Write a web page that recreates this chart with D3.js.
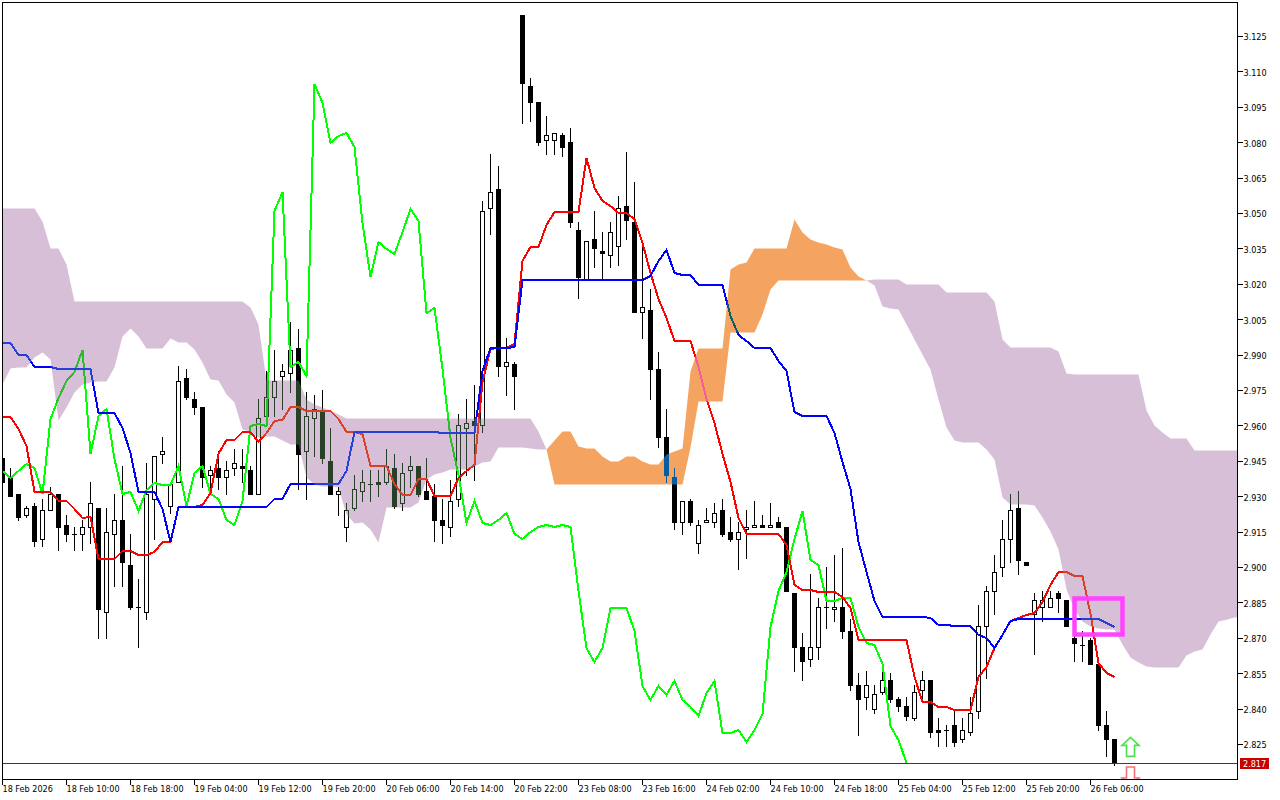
<!DOCTYPE html>
<meta charset="utf-8">
<style>
  html, body { margin: 0; padding: 0; background: #fff; }
  svg { display: block; }
  text { font-family: "DejaVu Sans Condensed", "DejaVu Sans", sans-serif; font-size: 9px; fill: #000; }
  .axis path { display: none; }
  .axis line { stroke: #000; shape-rendering: crispEdges; }
</style>
<svg width="1280" height="800"></svg>
<script src="https://d3js.org/d3.v7.min.js"></script>
<script>
  // price bars
  var opens = [
    2.946,2.938,2.931,2.922,2.926,2.912,2.924,2.931,2.918,2.914,
    2.914,2.917,2.925,2.881,2.914,2.920,2.901,2.883,2.881,2.929,
    2.948,2.926,2.936,2.980,2.971,2.968,2.939,2.942,2.938,2.942,
    2.943,2.941,2.931,2.964,2.972,2.981,2.982,2.993,2.949,2.963,
    2.966,2.945,2.931,2.917,2.925,2.932,2.935,2.936,2.936,2.942,
    2.927,2.941,2.943,2.932,2.930,2.920,2.917,2.929,2.959,2.962,
    2.960,3.052,3.060,2.985,2.986,3.134,3.104,3.097,3.081,3.081,
    3.083,3.080,3.043,3.022,3.039,3.034,3.032,3.036,3.053,3.046,
    3.008,3.009,2.984,2.955,2.938,2.919,2.928,2.910,2.919,2.919,
    2.924,2.915,2.912,2.916,2.917,2.918,2.917,2.919,2.917,2.889,
    2.866,2.861,2.866,2.883,2.882,2.883,2.873,2.850,2.845,2.840,
    2.847,2.852,2.844,2.841,2.836,2.848,2.852,2.831,2.831,2.833,
    2.827,2.830,2.839,2.875,2.890,2.900,2.912,2.925,2.902,2.880,
    2.883,2.883,2.889,2.886,2.870,2.867,2.869,2.859,2.833,2.827
  ];
  var highs = [
    2.946,2.942,2.931,2.926,2.927,2.929,2.934,2.931,2.922,2.917,
    2.920,2.936,2.925,2.925,2.931,2.943,2.914,2.895,2.944,2.947,
    2.955,2.935,2.985,2.984,2.974,2.968,2.943,2.949,2.945,2.950,
    2.950,2.943,2.971,2.983,2.992,2.986,3.004,3.001,2.974,2.973,
    2.975,2.959,2.934,2.927,2.939,2.941,2.941,2.941,2.950,2.948,
    2.944,2.947,2.943,2.946,2.935,2.929,2.937,2.965,2.971,2.977,
    3.055,3.075,3.070,2.997,2.987,3.134,3.107,3.097,3.091,3.084,
    3.084,3.086,3.046,3.038,3.051,3.042,3.046,3.057,3.076,3.063,
    3.038,3.018,2.991,2.967,2.942,2.928,2.929,2.920,2.925,2.927,
    2.929,2.921,2.919,2.924,2.928,2.922,2.927,2.921,2.917,2.889,
    2.872,2.897,2.887,2.900,2.905,2.908,2.878,2.855,2.856,2.850,
    2.860,2.855,2.845,2.845,2.850,2.856,2.852,2.836,2.833,2.840,
    2.836,2.845,2.884,2.892,2.905,2.920,2.931,2.932,2.902,2.889,
    2.890,2.890,2.890,2.886,2.872,2.873,2.870,2.859,2.839,2.827
  ];
  var lows = [
    2.936,2.930,2.920,2.921,2.909,2.909,2.924,2.907,2.911,2.907,
    2.907,2.910,2.870,2.870,2.892,2.892,2.882,2.866,2.878,2.912,
    2.944,2.923,2.936,2.971,2.965,2.934,2.934,2.933,2.931,2.939,
    2.936,2.931,2.931,2.961,2.964,2.967,2.974,2.933,2.929,2.947,
    2.944,2.931,2.922,2.911,2.924,2.928,2.928,2.930,2.935,2.925,
    2.924,2.934,2.930,2.929,2.911,2.910,2.913,2.926,2.939,2.937,
    2.957,3.041,2.981,2.973,2.967,3.088,3.089,3.079,3.075,3.075,
    3.074,3.044,3.014,3.022,3.027,3.022,3.027,3.028,3.039,3.008,
    2.997,2.971,2.951,2.936,2.916,2.914,2.918,2.906,2.919,2.917,
    2.913,2.911,2.899,2.904,2.917,2.917,2.917,2.917,2.890,2.856,
    2.852,2.858,2.861,2.874,2.877,2.870,2.848,2.829,2.840,2.838,
    2.846,2.843,2.839,2.835,2.835,2.844,2.828,2.824,2.824,2.824,
    2.826,2.829,2.836,2.853,2.880,2.896,2.902,2.897,2.901,2.863,
    2.877,2.883,2.881,2.875,2.860,2.860,2.859,2.831,2.820,2.816
  ];
  var closes = [
    2.936,2.930,2.921,2.925,2.911,2.924,2.931,2.917,2.914,2.914,
    2.917,2.927,2.882,2.915,2.920,2.902,2.883,2.883,2.931,2.947,
    2.949,2.935,2.979,2.972,2.968,2.938,2.941,2.938,2.941,2.944,
    2.942,2.931,2.963,2.972,2.979,2.983,2.992,2.948,2.964,2.967,
    2.946,2.931,2.932,2.924,2.933,2.936,2.935,2.935,2.943,2.926,
    2.940,2.943,2.931,2.929,2.920,2.918,2.928,2.960,2.961,2.960,
    3.051,3.059,2.985,2.987,2.981,3.105,3.097,3.080,3.083,3.084,
    3.078,3.046,3.023,3.038,3.035,3.033,3.042,3.052,3.047,3.008,
    3.010,2.984,2.955,2.939,2.919,2.928,2.919,2.918,2.920,2.923,
    2.914,2.912,2.915,2.917,2.918,2.917,2.918,2.917,2.890,2.866,
    2.860,2.866,2.883,2.883,2.883,2.873,2.850,2.844,2.850,2.846,
    2.852,2.844,2.841,2.837,2.847,2.852,2.830,2.830,2.831,2.826,
    2.831,2.838,2.875,2.890,2.898,2.912,2.924,2.903,2.901,2.886,
    2.886,2.887,2.887,2.875,2.868,2.867,2.859,2.833,2.827,2.817
  ];

  // ichimoku lines
  var tenkan = [
    2.9636,2.9636,2.9585,2.9513,2.9322,2.9322,2.9322,2.9280,2.9280,2.9246,
    2.9208,2.9216,2.9034,2.9034,2.9034,2.9068,2.9068,2.9051,2.9051,2.9064,
    2.9110,2.9110,2.9258,2.9258,2.9258,2.9263,2.9314,2.9483,2.9542,2.9542,
    2.9576,2.9576,2.9530,2.9572,2.9619,2.9623,2.9678,2.9678,2.9665,2.9665,
    2.9665,2.9665,2.9631,2.9576,2.9576,2.9564,2.9432,2.9432,2.9432,2.9352,
    2.9309,2.9309,2.9373,2.9373,2.9305,2.9305,2.9305,2.9381,2.9407,2.9436,
    2.9784,2.9924,2.9928,2.9928,2.9945,3.0297,3.0356,3.0360,3.0453,3.0508,
    3.0508,3.0508,3.0508,3.0737,3.0610,3.0555,3.0530,3.0504,3.0504,3.0475,
    3.0377,3.0250,3.0136,3.0059,2.9958,2.9958,2.9958,2.9848,2.9712,2.9614,
    2.9479,2.9364,2.9208,2.9144,2.9144,2.9144,2.9144,2.9144,2.9097,2.8924,
    2.8903,2.8903,2.8898,2.8898,2.8898,2.8873,2.8830,2.8691,2.8691,2.8691,
    2.8691,2.8691,2.8691,2.8691,2.8538,2.8432,2.8432,2.8407,2.8407,2.8398,
    2.8398,2.8398,2.8538,2.8580,2.8661,2.8716,2.8775,2.8784,2.8797,2.8809,
    2.8852,2.8924,2.8979,2.8979,2.8962,2.8962,2.8801,2.8597,2.8555,2.8534
  ];
  var kijun = [
    2.9953,2.9953,2.9902,2.9902,2.9848,2.9848,2.9848,2.9839,2.9839,2.9839,
    2.9839,2.9839,2.9653,2.9653,2.9653,2.9593,2.9487,2.9318,2.9318,2.9318,
    2.9246,2.9110,2.9258,2.9258,2.9258,2.9258,2.9258,2.9258,2.9258,2.9258,
    2.9258,2.9258,2.9258,2.9258,2.9292,2.9292,2.9352,2.9352,2.9352,2.9352,
    2.9352,2.9352,2.9352,2.9407,2.9576,2.9576,2.9576,2.9576,2.9576,2.9576,
    2.9576,2.9576,2.9576,2.9576,2.9576,2.9572,2.9572,2.9572,2.9572,2.9572,
    2.9831,2.9928,2.9928,2.9928,2.9936,3.0220,3.0220,3.0220,3.0220,3.0220,
    3.0220,3.0220,3.0220,3.0220,3.0220,3.0220,3.0220,3.0220,3.0220,3.0220,
    3.0220,3.0237,3.0297,3.0347,3.0250,3.0241,3.0241,3.0199,3.0199,3.0199,
    3.0199,3.0064,2.9987,2.9958,2.9928,2.9928,2.9928,2.9873,2.9831,2.9661,
    2.9644,2.9644,2.9644,2.9644,2.9572,2.9445,2.9331,2.9106,2.8979,2.8856,
    2.8792,2.8792,2.8792,2.8792,2.8792,2.8792,2.8784,2.8758,2.8758,2.8754,
    2.8754,2.8754,2.8716,2.8703,2.8661,2.8716,2.8775,2.8780,2.8780,2.8780,
    2.8780,2.8780,2.8780,2.8780,2.8780,2.8780,2.8780,2.8780,2.8763,2.8746
  ];
  var chikou = [
    2.941,2.938,2.941,2.944,2.942,2.931,2.963,2.972,2.979,2.983,
    2.992,2.948,2.964,2.967,2.946,2.931,2.932,2.924,2.933,2.936,
    2.935,2.935,2.943,2.926,2.940,2.943,2.931,2.929,2.920,2.918,
    2.928,2.960,2.961,2.960,3.051,3.059,2.985,2.987,2.981,3.105,
    3.097,3.080,3.083,3.084,3.078,3.046,3.023,3.038,3.035,3.033,
    3.042,3.052,3.047,3.008,3.010,2.984,2.955,2.939,2.919,2.928,
    2.919,2.918,2.920,2.923,2.914,2.912,2.915,2.917,2.918,2.917,
    2.918,2.917,2.890,2.866,2.860,2.866,2.883,2.883,2.883,2.873,
    2.850,2.844,2.850,2.846,2.852,2.844,2.841,2.837,2.847,2.852,
    2.830,2.830,2.831,2.826,2.831,2.838,2.875,2.890,2.898,2.912,
    2.924,2.903,2.901,2.886,2.886,2.887,2.887,2.875,2.868,2.867,
    2.859,2.833,2.827,2.817
  ];

  // cloud edges, run 26 bars past the last price bar
  var spanA = [
    2.9775,2.9843,2.9847,2.9847,2.9890,2.9911,2.9881,2.9623,2.9678,2.9742,
    2.9775,2.9784,2.9788,2.9788,2.9847,2.9979,3.0013,2.9979,2.9928,2.9928,
    2.9928,2.9970,2.9953,2.9953,2.9924,2.9869,2.9797,2.9792,2.9733,2.9699,
    2.9585,2.9576,2.9551,2.9555,2.9555,2.9538,2.9521,2.9521,2.9381,2.9352,
    2.9343,2.9343,2.9339,2.9225,2.9186,2.9191,2.9161,2.9106,2.9254,2.9254,
    2.9254,2.9254,2.9275,2.9373,2.9394,2.9403,2.9415,2.9415,2.9415,2.9428,
    2.9445,2.9449,2.9509,2.9509,2.9509,2.9509,2.9504,2.9500,2.9500,2.9538,
    2.9576,2.9576,2.9513,2.9504,2.9504,2.9470,2.9449,2.9449,2.9470,2.9470,
    2.9449,2.9436,2.9436,2.9479,2.9492,2.9504,2.9831,2.9928,2.9928,2.9928,
    2.9928,3.0263,3.0284,3.0292,3.0352,3.0352,3.0352,3.0352,3.0352,3.0475,
    3.0419,3.0390,3.0377,3.0369,3.0356,3.0347,3.0271,3.0233,3.0216,3.0195,
    3.0106,3.0097,3.0093,3.0030,2.9966,2.9902,2.9839,2.9712,2.9593,2.9538,
    2.9530,2.9530,2.9530,2.9500,2.9458,2.9297,2.9267,2.9267,2.9267,2.9263,
    2.9212,2.9153,2.9076,2.8907,2.8822,2.8771,2.8750,2.8741,2.8737,2.8737,
    2.8674,2.8619,2.8597,2.8580,2.8576,2.8576,2.8576,2.8576,2.8627,2.8644,
    2.8653,2.8716,2.8771,2.8779,2.8788,2.8788
  ];
  var spanB = [
    3.0521,3.0521,3.0521,3.0521,3.0521,3.0466,3.0352,3.0352,3.0284,3.0127,
    3.0127,3.0127,3.0127,3.0127,3.0127,3.0127,3.0127,3.0127,3.0127,3.0127,
    3.0127,3.0127,3.0127,3.0127,3.0127,3.0127,3.0127,3.0127,3.0127,3.0127,
    3.0127,3.0102,3.0030,2.9792,2.9792,2.9792,2.9792,2.9792,2.9712,2.9691,
    2.9678,2.9665,2.9648,2.9631,2.9631,2.9631,2.9631,2.9631,2.9631,2.9631,
    2.9631,2.9631,2.9631,2.9631,2.9631,2.9631,2.9631,2.9631,2.9631,2.9631,
    2.9631,2.9631,2.9631,2.9631,2.9631,2.9631,2.9631,2.9576,2.9500,2.9352,
    2.9352,2.9352,2.9352,2.9352,2.9352,2.9352,2.9352,2.9352,2.9352,2.9352,
    2.9352,2.9352,2.9352,2.9352,2.9352,2.9352,2.9509,2.9703,2.9703,2.9703,
    2.9703,2.9996,2.9996,2.9996,2.9996,3.0072,3.0178,3.0216,3.0216,3.0216,
    3.0216,3.0216,3.0216,3.0216,3.0216,3.0216,3.0216,3.0216,3.0216,3.0220,
    3.0220,3.0220,3.0220,3.0199,3.0199,3.0199,3.0199,3.0199,3.0165,3.0165,
    3.0165,3.0165,3.0165,3.0165,3.0127,2.9966,2.9932,2.9932,2.9932,2.9932,
    2.9932,2.9932,2.9915,2.9822,2.9818,2.9818,2.9818,2.9818,2.9818,2.9818,
    2.9818,2.9818,2.9818,2.9665,2.9602,2.9572,2.9547,2.9547,2.9547,2.9496,
    2.9496,2.9496,2.9496,2.9496,2.9496,2.9496
  ];

  var priceTicks = [3.125,3.110,3.095,3.080,3.065,3.050,3.035,3.020,3.005,2.990,2.975,2.960,
    2.945,2.930,2.915,2.900,2.885,2.870,2.855,2.840,2.825];
  var timeLabels = ["18 Feb 2026","18 Feb 10:00","18 Feb 18:00","19 Feb 04:00","19 Feb 12:00","19 Feb 20:00",
    "20 Feb 06:00","20 Feb 14:00","20 Feb 22:00","23 Feb 08:00","23 Feb 16:00","24 Feb 02:00",
    "24 Feb 10:00","24 Feb 18:00","25 Feb 04:00","25 Feb 12:00","25 Feb 20:00","26 Feb 06:00"];
  var timeBars = [0,8,16,24,32,40,48,56,64,72,80,88,96,104,112,120,128,136];

  var lastPrice = 2.817;
  // pink box on the chart: bars and prices of its corners
  var boxBars = [134, 140];
  var boxPrices = [2.8869, 2.8716];
  var arrowBar = 141;
  var arrowUpPrice = 2.8280;
  var arrowDownPrice = 2.8157;

  var plotL = 2.5, plotR = 1237.5, plotT = 2.5, plotB = 779.5;

  var svg = d3.select("svg");
  svg.append("rect").attr("width", 1280).attr("height", 800).attr("fill", "#fff");

  var x = d3.scaleLinear().domain([0, 155]).range([2, 1242]);
  var y = d3.scaleLinear().domain([2.825, 3.125]).range([744.5, 36.5]);
  function px(i) { return x(i) + 0.5; }
  function py(p) { return Math.floor(y(p)) + 0.5; }

  svg.append("clipPath").attr("id", "plot").append("rect")
    .attr("x", plotL).attr("y", plotT).attr("width", plotR - plotL).attr("height", plotB - plotT);

  var g = svg.append("g").attr("clip-path", "url(#plot)");
  // the clip isolates this group, so the blend needs its own white underneath
  g.append("rect").attr("width", 1280).attr("height", 800).attr("fill", "#fff");
  var bars = d3.range(closes.length);

  // candles
  var candle = g.append("g").attr("shape-rendering", "crispEdges");
  candle.selectAll("line.wick").data(bars).join("line")
    .attr("class", "wick")
    .attr("x1", px).attr("x2", px)
    .attr("y1", function (i) { return py(highs[i]) - 0.5; })
    .attr("y2", function (i) { return py(lows[i]) + 0.5; })
    .attr("stroke", "#000");

  candle.selectAll("rect.body").data(bars.filter(function (i) { return opens[i] !== closes[i]; })).join("rect")
    .attr("class", "body")
    .each(function (i) {
      var bull = closes[i] > opens[i];
      var t = py(Math.max(opens[i], closes[i])), b = py(Math.min(opens[i], closes[i]));
      if (bull) {
        d3.select(this).attr("x", px(i) - 2).attr("width", 4).attr("y", t).attr("height", b - t)
          .attr("fill", "#fff").attr("stroke", "#000");
      } else {
        d3.select(this).attr("x", px(i) - 2.5).attr("width", 5).attr("y", t - 0.5).attr("height", b - t + 1)
          .attr("fill", "#000");
      }
    });

  candle.selectAll("line.doji").data(bars.filter(function (i) { return opens[i] === closes[i]; })).join("line")
    .attr("class", "doji")
    .attr("x1", function (i) { return px(i) - 2.5; })
    .attr("x2", function (i) { return px(i) + 2.5; })
    .attr("y1", function (i) { return py(closes[i]); })
    .attr("y2", function (i) { return py(closes[i]); })
    .attr("stroke", "#000");

  // ichimoku lines, jagged like the terminal draws them
  function drawLine(values, color) {
    g.append("path")
      .attr("d", d3.line().x(function (d, i) { return px(i); }).y(function (d) { return Math.round(y(d)); })(values))
      .attr("fill", "none")
      .attr("stroke", color)
      .attr("stroke-width", 2)
      .attr("shape-rendering", "crispEdges");
  }
  drawLine(chikou, "#00ff00");
  drawLine(tenkan, "#ff0000");
  drawLine(kijun, "#0000ff");

  // cloud: difference blend with the inverted colour, so white gives thistle / sandybrown
  var cloudIdx = d3.range(spanA.length);
  function drawCloud(keep, color) {
    g.append("path")
      .attr("d", d3.area()
        .defined(keep)
        .x(function (i) { return px(i); })
        .y0(function (i) { return y(spanA[i]); })
        .y1(function (i) { return y(spanB[i]); })(cloudIdx))
      .attr("fill", color)
      .style("mix-blend-mode", "difference");
  }
  drawCloud(function (i) { return spanA[i] <= spanB[i]; }, "#274027");
  drawCloud(function (i) { return spanA[i] >= spanB[i]; }, "#0b5b9f");

  // last price line
  g.append("line")
    .attr("x1", plotL).attr("x2", plotR)
    .attr("y1", py(lastPrice)).attr("y2", py(lastPrice))
    .attr("stroke", "#c80000")
    .attr("shape-rendering", "crispEdges");

  // pink box
  g.append("rect")
    .attr("x", px(boxBars[0]))
    .attr("y", py(boxPrices[0]))
    .attr("width", px(boxBars[1]) - px(boxBars[0]))
    .attr("height", py(boxPrices[1]) - py(boxPrices[0]))
    .attr("fill", "none")
    .attr("stroke", "#ff44ff")
    .attr("stroke-width", 4.5);

  // signal arrows
  function arrowPath(cx, tip, dir) {
    var head = 8 * dir, len = 19 * dir;
    return "M" + cx + "," + tip + "L" + (cx + 8.5) + "," + (tip + head) + "L" + (cx + 4) + "," + (tip + head) +
      "L" + (cx + 4) + "," + (tip + len) + "L" + (cx - 4) + "," + (tip + len) + "L" + (cx - 4) + "," + (tip + head) +
      "L" + (cx - 8.5) + "," + (tip + head) + "Z";
  }
  g.append("path").attr("d", arrowPath(px(arrowBar), y(arrowUpPrice), 1))
    .attr("fill", "#fff").attr("stroke", "#4de04d").attr("stroke-width", 1.6);
  g.append("path").attr("d", arrowPath(px(arrowBar), y(arrowDownPrice) + 19.5, -1))
    .attr("fill", "#fff").attr("stroke", "#f4717a").attr("stroke-width", 1.6);

  // frame
  svg.append("rect")
    .attr("x", plotL).attr("y", plotT).attr("width", plotR - plotL).attr("height", plotB - plotT)
    .attr("fill", "none").attr("stroke", "#000").attr("shape-rendering", "crispEdges");

  // axes
  var yAxis = d3.axisRight(y).tickValues(priceTicks).tickSize(5).tickPadding(1).offset(0)
    .tickFormat(function (d) { return d.toFixed(3); });
  var yg = svg.append("g").attr("class", "axis")
    .attr("transform", "translate(" + plotR + ",0)")
    .call(yAxis);
  yg.selectAll("text").attr("y", 1);

  var xAxis = d3.axisBottom(x).tickValues(timeBars).tickSize(5).offset(0.5)
    .tickFormat(function (d, i) { return timeLabels[i]; });
  var xg = svg.append("g").attr("class", "axis")
    .attr("transform", "translate(0," + plotB + ")")
    .call(xAxis);
  xg.selectAll("text").attr("text-anchor", "start").attr("x", 0).attr("y", 6).attr("dy", "0.71em");

  // last price tag
  svg.append("rect")
    .attr("x", 1240).attr("y", py(lastPrice) - 5.5).attr("width", 29).attr("height", 11)
    .attr("fill", "#c80000");
  svg.append("text")
    .attr("x", 1243).attr("y", py(lastPrice) + 3.5)
    .style("fill", "#fff")
    .text(lastPrice.toFixed(3));
</script>
